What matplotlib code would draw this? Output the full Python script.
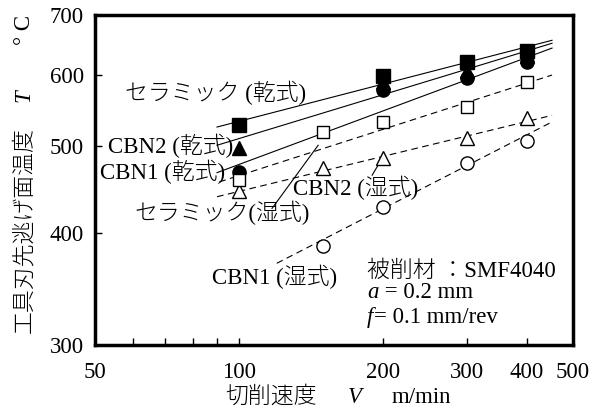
import numpy as np
import matplotlib
matplotlib.use('Agg')
import matplotlib.pyplot as plt
from matplotlib.ticker import FixedLocator, NullFormatter

plt.rcParams['font.family'] = ['Liberation Serif', 'Noto Sans CJK JP']
plt.rcParams['font.weight'] = 'light'
FS = 16.5

# 測定点 (切削速度 V m/min, 温度 T °C)
v_cer_dry = [100, 200, 300, 400]
t_cer_dry = [528, 598, 621, 639]
v_cbn2_dry = [100, 200, 300, 400]
t_cbn2_dry = [497, 590, 607, 630]
v_cbn1_dry = [100, 200, 300, 400]
t_cbn1_dry = [468, 577, 595, 621]
v_cer_wet = [100, 150, 200, 300, 400]
t_cer_wet = [458, 519, 532, 553, 589]
v_cbn2_wet = [100, 150, 200, 300, 400]
t_cbn2_wet = [445, 473, 485, 510, 537]
v_cbn1_wet = [150, 200, 300, 400]
t_cbn1_wet = [387, 428, 479, 506]

# 近似直線の両端
fit_cer_dry = ([90, 452], [525, 656])
fit_cbn2_dry = ([90, 452], [501, 651])
fit_cbn1_dry = ([90, 452], [467, 643])
fit_cer_wet = ([91, 452], [456, 600])
fit_cbn2_wet = ([90, 452], [439, 541])
fit_cbn1_wet = ([120, 452], [370, 532])

x_major = [50, 100, 200, 300, 400, 500]
x_minor = [60, 70, 80, 90]
y_major = [300, 400, 500, 600, 700]

fig = plt.figure(figsize=(6.03, 4.19), dpi=100)
ax = fig.add_axes([95 / 603, 1 - 345 / 419, 478 / 603, 330 / 419])
ax.set_xscale('log')
ax.set_yscale('log')
ax.set_xlim(50, 500)
ax.set_ylim(300, 700)

# 近似線
for fit in (fit_cer_dry, fit_cbn2_dry, fit_cbn1_dry):
    ax.plot(fit[0], fit[1], color='black', lw=0.8, zorder=2)
for fit in (fit_cer_wet, fit_cbn2_wet, fit_cbn1_wet):
    ax.plot(fit[0], fit[1], color='black', lw=0.8, dashes=(6, 4), zorder=2)

ms = 9.5
ax.plot(v_cbn2_dry, t_cbn2_dry, '^', color='black', ms=ms, zorder=3)
ax.plot(v_cbn1_dry, t_cbn1_dry, 'o', color='black', ms=ms, zorder=4)
ax.plot(v_cbn2_wet, t_cbn2_wet, '^', mfc='white', mec='black', mew=1, ms=ms, zorder=5)
ax.plot(v_cbn1_wet, t_cbn1_wet, 'o', mfc='white', mec='black', mew=1, ms=ms, zorder=5)
ax.plot(v_cer_wet, t_cer_wet, 's', mfc='white', mec='black', mew=1, ms=ms - 0.5, zorder=6)
ax.plot(v_cer_dry, t_cer_dry, 's', color='black', ms=ms + 0.5, zorder=7)

# 軸
ax.xaxis.set_major_locator(FixedLocator(x_major))
ax.xaxis.set_minor_locator(FixedLocator(x_minor))
ax.set_xticklabels([str(v) for v in x_major])
ax.xaxis.set_minor_formatter(NullFormatter())
ax.yaxis.set_major_locator(FixedLocator(y_major))
ax.yaxis.set_minor_locator(FixedLocator([]))
ax.set_yticklabels([str(v) for v in y_major])
ax.tick_params(which='both', direction='in', length=5, width=1, labelsize=FS)
ax.tick_params(axis='x', pad=12)
ax.tick_params(axis='y', pad=8)
for s in ax.spines.values():
    s.set_linewidth(2.5)

# 注記
ax.text(57.8, 573, 'セラミック (乾式)', fontsize=FS, va='center', ha='left')
ax.text(53.2, 500, 'CBN2 (乾式)', fontsize=FS, va='center', ha='left')
ax.text(51.2, 468, 'CBN1 (乾式)', fontsize=FS, va='center', ha='left')
ax.text(129.8, 449, 'CBN2 (湿式)', fontsize=FS, va='center', ha='left')
ax.text(60.6, 421, 'セラミック(湿式)', fontsize=FS, va='center', ha='left')
ax.text(87.9, 357, 'CBN1 (湿式)', fontsize=FS, va='center', ha='left')
ax.plot([117.3, 146.5], [426, 501], color='black', lw=0.8)
ax.plot([190, 196], [464, 477], color='black', lw=0.8)

ax.text(185.4, 363, '被削材 ：SMF4040', fontsize=FS, va='center', ha='left')
ax.text(185.4, 343, 'a', fontsize=FS, style='italic', va='center', ha='left')
ax.text(196, 343, ' = 0.2 mm', fontsize=FS, va='center', ha='left')
ax.text(185.4, 322, 'f', fontsize=FS, style='italic', va='center', ha='left')
ax.text(192, 322, '= 0.1 mm/rev', fontsize=FS, va='center', ha='left')

# 軸ラベル
fig.text(271 / 603, 1 - 397 / 419, '切削速度', fontsize=FS, ha='center', va='center')
fig.text(355 / 603, 1 - 397 / 419, 'V', fontsize=FS, style='italic', ha='center', va='center')
fig.text(421 / 603, 1 - 397 / 419, 'm/min', fontsize=FS, ha='center', va='center')
fig.text(24 / 603, 1 - 230 / 419, '工具刃先逃げ面温度', fontsize=FS, rotation=90, ha='center', va='center')
fig.text(24 / 603, 1 - 96 / 419, 'T', fontsize=FS, style='italic', rotation=90, ha='center', va='center')
fig.text(24 / 603, 1 - 30 / 419, '° C', fontsize=FS, rotation=90, ha='center', va='center')

fig.savefig('out.png', dpi=100)
